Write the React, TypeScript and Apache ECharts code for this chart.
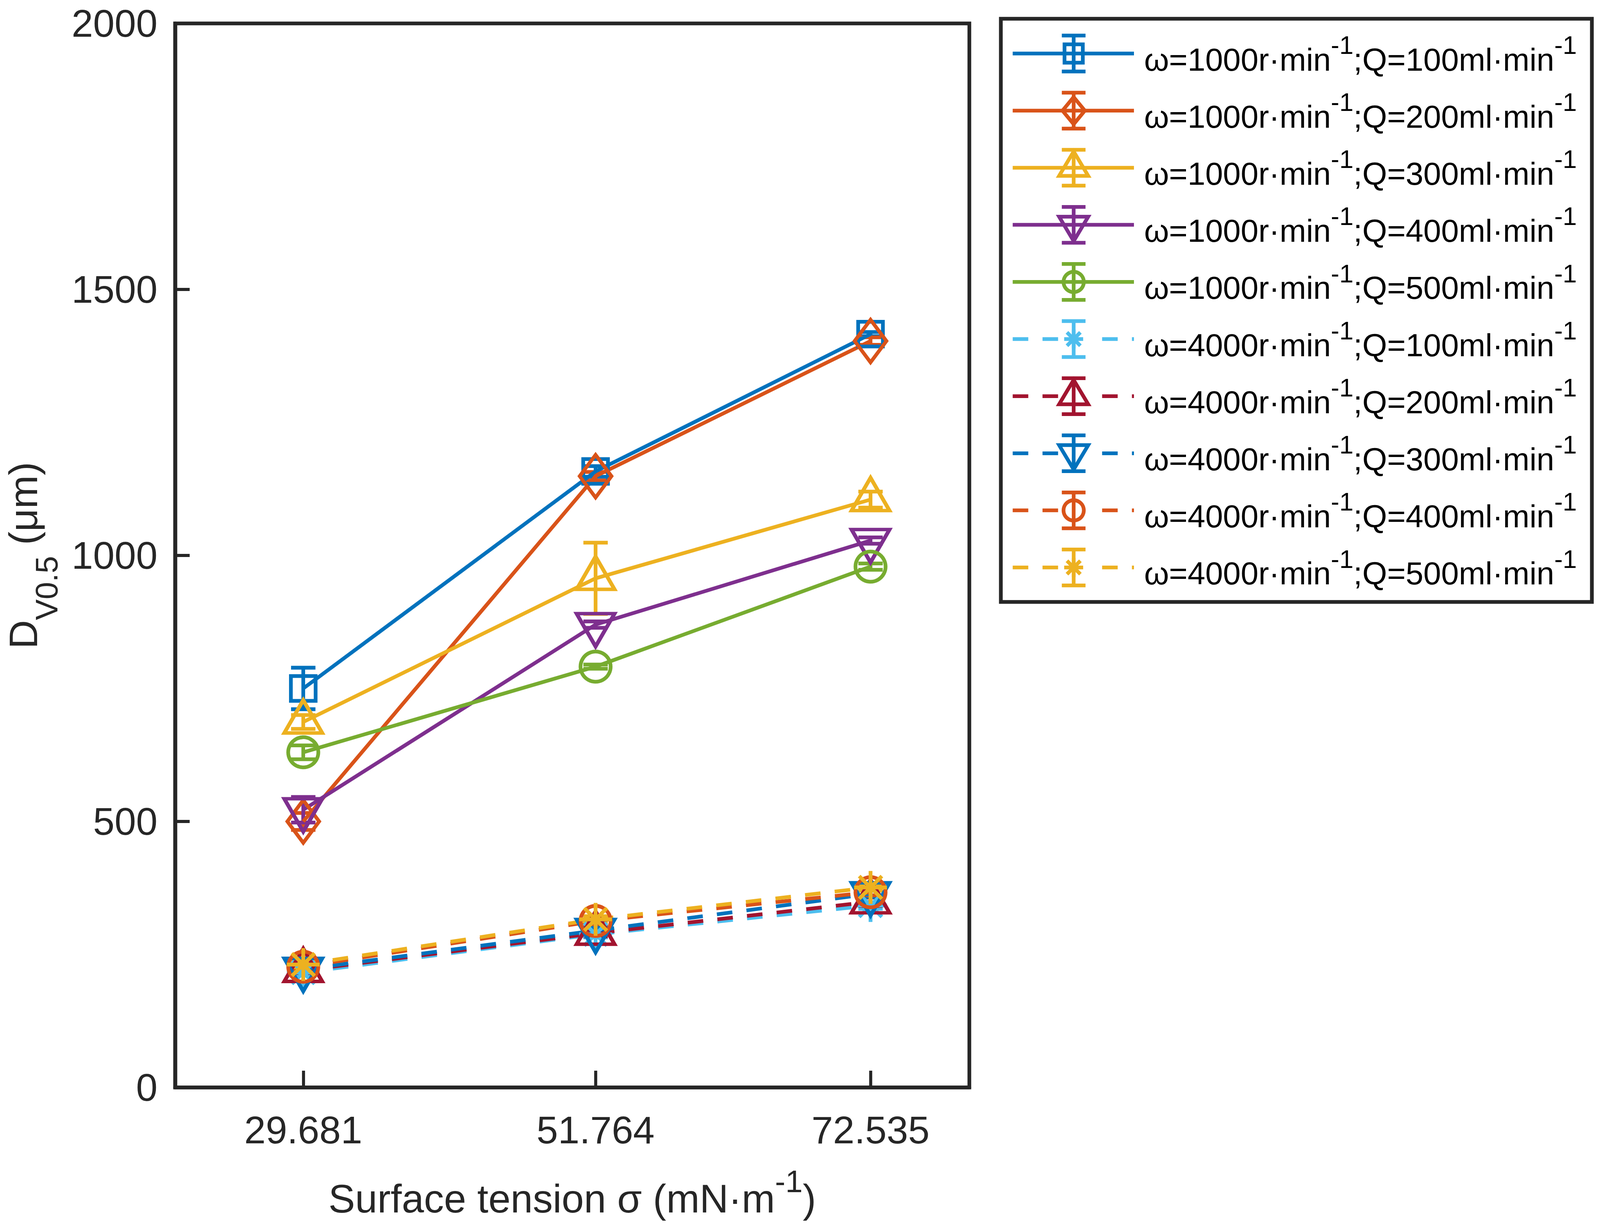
import React, { useEffect, useRef } from "react";
import * as echarts from "echarts";

const FONT = '"Liberation Sans", Arial, Helvetica, sans-serif';
const AX = "#262626";

// x positions (surface tension) and their tick labels
const sigma = [29.681, 51.764, 72.535];
const xTickLabels = ["29.681", "51.764", "72.535"];
const xMin = 20;
const xMax = 80;
const yMin = 0;
const yMax = 2000;
const yStep = 500;

// series descriptors
const speeds = [1000, 1000, 1000, 1000, 1000, 4000, 4000, 4000, 4000, 4000];
const flows = [100, 200, 300, 400, 500, 100, 200, 300, 400, 500];

// D_V0.5 values (µm) and error half-widths
const d1000q100 = [750, 1158, 1416];
const e1000q100 = [39, 10, 4];
const d1000q200 = [500, 1149, 1403];
const e1000q200 = [16, 8, 7];
const d1000q300 = [687, 957, 1105];
const e1000q300 = [13, 67, 15];
const d1000q400 = [522, 870, 1028];
const e1000q400 = [24, 6, 6];
const d1000q500 = [630, 791, 979];
const e1000q500 = [13, 4, 6];
const d4000q100 = [216, 288, 342];
const e4000q100 = [5, 6, 6];
const d4000q200 = [220, 290, 349];
const e4000q200 = [5, 6, 8];
const d4000q300 = [222, 295, 364];
const e4000q300 = [5, 6, 6];
const d4000q400 = [227, 313, 367];
const e4000q400 = [5, 6, 6];
const d4000q500 = [231, 316, 376];
const e4000q500 = [5, 6, 6];

const values = [d1000q100, d1000q200, d1000q300, d1000q400, d1000q500, d4000q100, d4000q200, d4000q300, d4000q400, d4000q500];
const errors = [e1000q100, e1000q200, e1000q300, e1000q400, e1000q500, e4000q100, e4000q200, e4000q300, e4000q400, e4000q500];

const colors = ["#0072BD", "#D95319", "#EDB120", "#7E2F8E", "#77AC30", "#4DBEEE", "#A2142F", "#0072BD", "#D95319", "#EDB120"];
const markers = ["square", "diamond", "triUp", "triDown", "circle", "star", "triUp", "triDown", "circle", "star"];
const dashed = [false, false, false, false, false, true, true, true, true, true];

const STAR_PATH =
  "path://M44.25,0L55.75,0L55.75,100L44.25,100Z" +
  "M0,44.25L100,44.25L100,55.75L0,55.75Z" +
  "M19.57,11.43L88.57,80.43L80.43,88.57L11.43,19.57Z" +
  "M88.57,19.57L19.57,88.57L11.43,80.43L80.43,11.43Z";
const TRI_DOWN_PATH = "path://M0,0L2,0L1,1.732Z";

const DW = 4724;
const DH = 3154;

function buildOption(W: number, H: number): any {
  const sx = W / DW;
  const sy = H / DH;
  const sf = Math.min(sx, sy);
  const X = (v: number) => v * sx;
  const Y = (v: number) => v * sy;
  const F = (v: number) => v * sf;
  const LW = F(11);

  function plotSymbol(kind: string) {
    switch (kind) {
      case "square":
        return { symbol: "rect", size: F(73), offset: [0, 0] };
      case "diamond":
        return { symbol: "diamond", size: [F(94), F(126)], offset: [0, 0] };
      case "triUp":
        return { symbol: "triangle", size: [F(112), F(97)], offset: [0, -F(16)] };
      case "triDown":
        return { symbol: TRI_DOWN_PATH, size: [F(112), F(97)], offset: [0, F(16)] };
      case "circle":
        return { symbol: "circle", size: F(89), offset: [0, 0] };
      default:
        return { symbol: STAR_PATH, size: F(97), offset: [0, 0] };
    }
  }

  function legendMarker(kind: string, cx: number, cy: number, color: string): any {
    const st = { fill: "none", stroke: color, lineWidth: LW };
    const u = F(1);
    switch (kind) {
      case "square":
        return { type: "rect", shape: { x: cx - 27 * u, y: cy - 27 * u, width: 54 * u, height: 54 * u }, style: st };
      case "diamond":
        return { type: "polygon", shape: { points: [[cx, cy - 40 * u], [cx + 33 * u, cy], [cx, cy + 40 * u], [cx - 33 * u, cy]] }, style: st };
      case "triUp":
        return { type: "polygon", shape: { points: [[cx, cy - 48 * u], [cx + 43 * u, cy + 24 * u], [cx - 43 * u, cy + 24 * u]] }, style: st };
      case "triDown":
        return { type: "polygon", shape: { points: [[cx, cy + 48 * u], [cx + 43 * u, cy - 24 * u], [cx - 43 * u, cy - 24 * u]] }, style: st };
      case "circle":
        return { type: "circle", shape: { cx, cy, r: 30 * u }, style: st };
      default: {
        const r = 28 * u;
        const d = r * 0.707;
        const s = { stroke: color, lineWidth: LW };
        return {
          type: "group",
          children: [
            { type: "line", shape: { x1: cx, y1: cy - r, x2: cx, y2: cy + r }, style: s },
            { type: "line", shape: { x1: cx - r, y1: cy, x2: cx + r, y2: cy }, style: s },
            { type: "line", shape: { x1: cx - d, y1: cy - d, x2: cx + d, y2: cy + d }, style: s },
            { type: "line", shape: { x1: cx + d, y1: cy - d, x2: cx - d, y2: cy + d }, style: s },
          ],
        };
      }
    }
  }

  const series: any[] = [];
  values.forEach((vals, i) => {
    const c = colors[i];
    const name = `ω=${speeds[i]}r·min-1;Q=${flows[i]}ml·min-1`;
    series.push({
      type: "custom",
      name: name + " (error)",
      silent: true,
      data: vals.map((v, j) => [sigma[j], v - errors[i][j], v + errors[i][j]]),
      encode: { x: 0, y: [1, 2] },
      renderItem: (params: any, api: any) => {
        const x = api.value(0);
        const lo = api.coord([x, api.value(1)]);
        const hi = api.coord([x, api.value(2)]);
        const hw = F(36);
        const style = { stroke: c, lineWidth: LW, fill: "none" };
        return {
          type: "group",
          children: [
            { type: "line", shape: { x1: lo[0], y1: lo[1], x2: hi[0], y2: hi[1] }, style },
            { type: "line", shape: { x1: lo[0] - hw, y1: lo[1], x2: lo[0] + hw, y2: lo[1] }, style },
            { type: "line", shape: { x1: hi[0] - hw, y1: hi[1], x2: hi[0] + hw, y2: hi[1] }, style },
          ],
        };
      },
    });
    const sym = plotSymbol(markers[i]);
    series.push({
      type: "line",
      name,
      data: vals.map((v, j) => [sigma[j], v]),
      symbol: sym.symbol,
      symbolSize: sym.size,
      symbolOffset: sym.offset,
      symbolKeepAspect: false,
      showAllSymbol: true,
      silent: true,
      emphasis: { disabled: true },
      lineStyle: { color: c, width: LW, type: dashed[i] ? [F(46), F(42)] : "solid", cap: "butt" },
      itemStyle:
        markers[i] === "star"
          ? { color: c, borderWidth: 0 }
          : { color: "rgba(0,0,0,0)", borderColor: c, borderWidth: LW },
    });
  });

  // legend drawn as graphic
  const LG = { x0: X(2990), x1: X(3348), mx: X(3170), tx: X(3378), y0: Y(137), gap: Y(146.2), eb: F(53), cap: F(35) };
  const legendEls: any[] = [
    {
      type: "rect",
      shape: { x: X(2955), y: Y(48), width: X(1745), height: Y(1493) },
      style: { fill: "#ffffff", stroke: AX, lineWidth: LW },
    },
  ];
  values.forEach((_, i) => {
    const c = colors[i];
    const y = LG.y0 + i * LG.gap;
    if (dashed[i]) {
      legendEls.push({ type: "polyline", shape: { points: [[LG.x0, y], [LG.mx, y]] }, style: { stroke: c, lineWidth: LW, lineDash: [F(46), F(42)], fill: "none" } });
      legendEls.push({ type: "polyline", shape: { points: [[X(3254), y], [LG.x1, y]] }, style: { stroke: c, lineWidth: LW, lineDash: [F(46), F(42)], fill: "none" } });
    } else {
      legendEls.push({ type: "line", shape: { x1: LG.x0, y1: y, x2: LG.x1, y2: y }, style: { stroke: c, lineWidth: LW } });
    }
    const es = { stroke: c, lineWidth: LW };
    legendEls.push({ type: "line", shape: { x1: LG.mx, y1: y - LG.eb, x2: LG.mx, y2: y + LG.eb }, style: es });
    legendEls.push({ type: "line", shape: { x1: LG.mx - LG.cap, y1: y - LG.eb, x2: LG.mx + LG.cap, y2: y - LG.eb }, style: es });
    legendEls.push({ type: "line", shape: { x1: LG.mx - LG.cap, y1: y + LG.eb, x2: LG.mx + LG.cap, y2: y + LG.eb }, style: es });
    legendEls.push(legendMarker(markers[i], LG.mx, y, c));
    legendEls.push({
      type: "text",
      x: LG.tx,
      y: y + F(17.4),
      style: {
        text: `{n|ω=${speeds[i]}r·min}{s|-1}{n|;Q=${flows[i]}ml·min}{s|-1}`,
        align: "left",
        verticalAlign: "middle",
        rich: {
          n: { fontSize: F(94), fontFamily: FONT, fill: "#000000" },
          s: { fontSize: F(75), fontFamily: FONT, fill: "#000000", padding: [0, 0, F(85), 0] },
        },
      },
    });
  });

  return {
    animation: false,
    backgroundColor: "#ffffff",
    grid: {
      left: X(517),
      top: Y(60),
      width: X(2345),
      height: Y(2724),
      show: true,
      borderColor: AX,
      borderWidth: LW,
      backgroundColor: "#ffffff",
      containLabel: false,
      outerBoundsMode: "none",
    },
    xAxis: {
      type: "value",
      min: xMin,
      max: xMax,
      name: "{m|Surface tension σ (mN·m}{s|-1}{m|)}",
      nameLocation: "middle",
      nameGap: Y(200),
      nameMoveOverlap: false,
      nameTextStyle: {
        rich: {
          m: { fontSize: F(118), fontFamily: FONT, color: AX },
          s: { fontSize: F(92), fontFamily: FONT, color: AX, padding: [0, 0, F(102), 0] },
        },
      },
      axisLine: { show: true, onZero: false, lineStyle: { color: AX, width: LW } },
      axisTick: { show: true, inside: true, length: Y(43), customValues: sigma, lineStyle: { color: AX, width: F(9) } },
      axisLabel: {
        show: true,
        customValues: sigma,
        margin: Y(60),
        fontSize: F(114),
        lineHeight: F(114),
        fontFamily: FONT,
        color: AX,
        formatter: (v: number) => {
          const k = sigma.findIndex((s) => Math.abs(s - v) < 1e-6);
          return k >= 0 ? xTickLabels[k] : "";
        },
      },
      splitLine: { show: false },
    },
    yAxis: {
      type: "value",
      min: yMin,
      max: yMax,
      interval: yStep,
      name: "{m|D}{b|V0.5}{m| (μm)}",
      nameLocation: "middle",
      nameRotate: 90,
      nameGap: X(333),
      nameMoveOverlap: false,
      nameTextStyle: {
        rich: {
          m: { fontSize: F(118), fontFamily: FONT, color: AX },
          b: { fontSize: F(92), fontFamily: FONT, color: AX, padding: [F(138), 0, 0, 0] },
        },
      },
      axisLine: { show: true, onZero: false, lineStyle: { color: AX, width: LW } },
      axisTick: { show: true, inside: true, length: X(43), lineStyle: { color: AX, width: F(9) } },
      axisLabel: {
        show: true,
        margin: X(52),
        fontSize: F(114),
        lineHeight: F(80),
        fontFamily: FONT,
        color: AX,
        formatter: (v: number) => String(v),
      },
      splitLine: { show: false },
    },
    series,
    graphic: { elements: legendEls },
  };
}

export default function App() {
  const ref = useRef<HTMLDivElement | null>(null);
  useEffect(() => {
    const el = ref.current;
    if (!el) return;
    const W = el.clientWidth || DW;
    const H = el.clientHeight || DH;
    const chart = echarts.init(el, undefined, { renderer: "svg", width: W, height: H });
    chart.setOption(buildOption(W, H));
    return () => {
      chart.dispose();
    };
  }, []);
  return (
    <div
      ref={ref}
      style={{ position: "fixed", left: 0, top: 0, width: "100vw", height: "100vh", background: "#ffffff", overflow: "hidden" }}
    />
  );
}
